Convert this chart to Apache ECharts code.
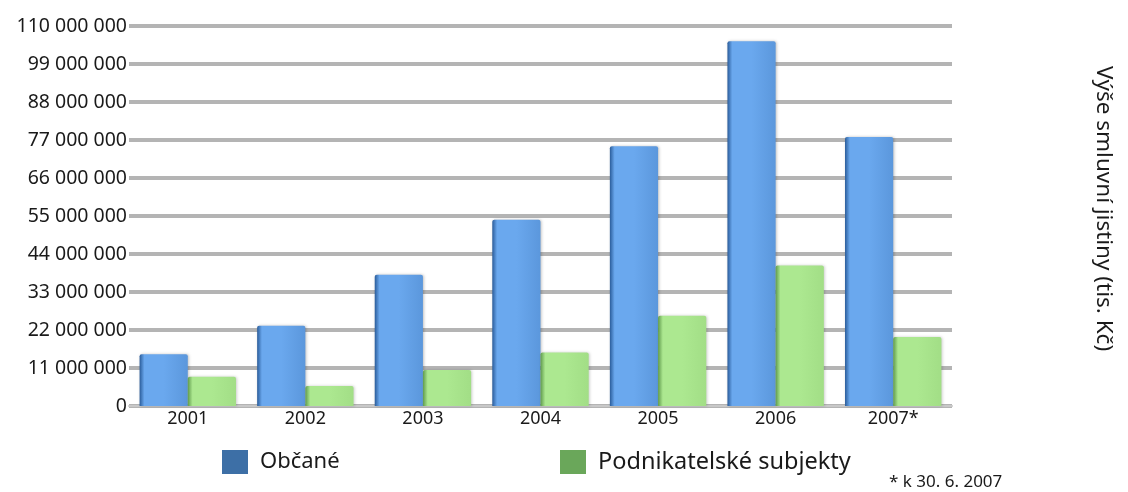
<!DOCTYPE html>
<html><head><meta charset="utf-8">
<script src="https://cdn.jsdelivr.net/npm/echarts@6/dist/echarts.min.js"></script>
<style>html,body{margin:0;padding:0;background:#fff}#c{width:1128px;height:492px}</style>
</head><body><div id="c"></div>
<script>
const categories = ['2001','2002','2003','2004','2005','2006','2007*'];
const obcane = [15000000, 23200000, 38000000, 53900000, 75200000, 105600000, 77900000];
const podnikatele = [8500000, 5800000, 10400000, 15500000, 26100000, 40700000, 20000000];
const seriesNames = ['Občané', 'Podnikatelské subjekty'];
const axisName = 'Výše smluvní jistiny (tis. Kč)';
const footnote = '* k 30. 6. 2007';
const FONT = 'Noto Sans';

function fmt(v){ return String(v).replace(/\B(?=(\d{3})+(?!\d))/g, ' '); }
function grad(c0,c1,c2){
  return {type:'linear',x:0,y:0,x2:1,y2:0,colorStops:[{offset:0,color:c0},{offset:0.1,color:c1},{offset:0.5,color:c1},{offset:1,color:c2}]};
}
const legendText = {fontFamily:FONT,fontSize:22,color:'#1a1a1a',padding:[0,0,0,7]};
const chart = echarts.init(document.getElementById('c'));
chart.setOption({
  animation:false,
  grid:{left:129,right:176,top:26,bottom:86},
  legend:[
    {data:[{name:seriesNames[0],itemStyle:{color:'#3d6fa6'}}],left:217,top:445,itemWidth:26,itemHeight:24,icon:'rect',textStyle:legendText},
    {data:[{name:seriesNames[1],itemStyle:{color:'#6aa75a'}}],left:555,top:445,itemWidth:26,itemHeight:24,icon:'rect',textStyle:Object.assign({},legendText,{fontSize:23.5})}
  ],
  xAxis:{type:'category',data:categories,
    axisLine:{show:true,lineStyle:{color:'#c8c8c8',width:2}},axisTick:{show:false},
    axisLabel:{fontFamily:FONT,fontSize:18,color:'#1a1a1a',margin:4}},
  yAxis:{type:'value',min:0,max:110000000,interval:11000000,
    axisLine:{show:false},axisTick:{show:false},
    splitLine:{lineStyle:{color:'#b4b4b4',width:4}},
    axisLabel:{fontFamily:FONT,fontSize:19.5,color:'#1a1a1a',margin:2,formatter:fmt}},
  series:[
    {name:seriesNames[0],type:'bar',data:obcane,barGap:'0%',barCategoryGap:'18%',
      itemStyle:{color:grad('#2a5c9a','#6aa8ee','#5b97dc'),borderRadius:[2,2,0,0],shadowColor:'rgba(0,0,0,0.25)',shadowBlur:3,shadowOffsetX:1}},
    {name:seriesNames[1],type:'bar',data:podnikatele,
      itemStyle:{color:grad('#5f9a4c','#ace890','#a2de86'),borderRadius:[2,2,0,0],shadowColor:'rgba(0,0,0,0.2)',shadowBlur:3,shadowOffsetX:1}}
  ],
  graphic:[
    {type:'text',left:1092,top:66,rotation:-Math.PI/2,originX:0,originY:0,
      style:{text:axisName,fontFamily:FONT,fontSize:22.5,fill:'#1a1a1a'}},
    {type:'text',left:889,top:474,style:{text:footnote,fontFamily:FONT,fontSize:17,fill:'#1a1a1a'}}
  ]
});
</script></body></html>
